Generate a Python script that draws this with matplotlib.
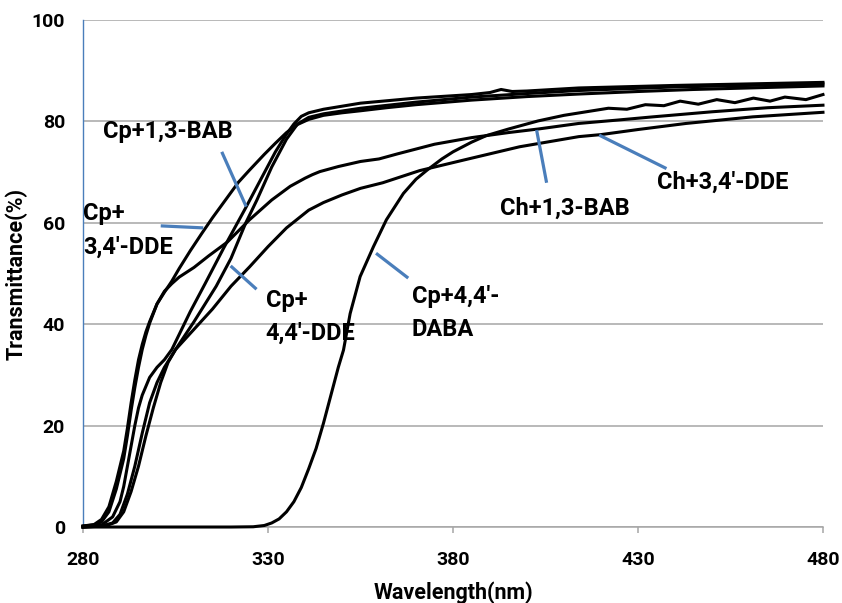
import numpy as np
import matplotlib
matplotlib.use('Agg')
import matplotlib.pyplot as plt

plt.rcParams['font.family'] = ['Roboto', 'DejaVu Sans']
plt.rcParams['font.weight'] = 'bold'

# --- data (wavelength nm, transmittance %) ---
cp_34dde_x = [280, 283, 285, 287, 289, 290, 291, 292, 293, 294, 295, 296, 297, 298, 300, 302, 304, 306,
              309, 312, 315, 318.5, 322, 325, 329, 332, 335, 338, 341, 345, 350, 355, 362, 370, 385, 400,
              414, 430, 445, 460, 480]
cp_34dde_y = [0.2, 0.5, 1.5, 4, 9, 12, 15, 19.5, 24.5, 29, 33, 36, 38.5, 40.5, 44, 46.3, 48.5, 51,
              54.5, 57.8, 61, 64.5, 68, 70.4, 73.5, 75.7, 77.8, 79.4, 80.4, 81.2, 81.7, 82.1, 82.7, 83.3, 84.2, 84.9,
              85.4, 85.9, 86.3, 86.6, 87.0]

ch_13bab_x = [280, 283, 285, 287, 289, 290, 291, 292, 293, 294, 295, 296, 297, 298, 300, 302, 304, 306,
              310, 314, 319, 325, 331, 336, 340, 342, 344, 349, 355, 360, 365, 375, 385, 395, 403, 414,
              425, 434, 450, 465, 480]
ch_13bab_y = [0.2, 0.4, 1.0, 3.0, 7.5, 10.5, 13.5, 18, 23, 27.5, 31.5, 35, 37.8, 40.2, 44, 46.5, 48, 49.3,
              51.2, 53.5, 56.2, 60.6, 64.5, 67.2, 68.8, 69.5, 70.1, 71.1, 72.1, 72.6, 73.6, 75.5, 76.8, 77.8, 78.5, 79.6,
              80.3, 80.9, 81.9, 82.7, 83.2]

cp_13bab_x = [280, 285, 288, 290, 291, 292, 293, 294, 295, 296, 298, 300, 302, 304, 306, 309, 313, 318,
              324, 328, 332, 335, 337, 339, 341, 345, 355, 370, 385, 390, 393, 396, 400, 414, 440, 460, 480]
cp_13bab_y = [0, 0.4, 2, 5, 8, 12, 16, 20, 23.5, 26, 29.5, 31.5, 33, 35, 38, 42.5, 48, 55,
              63, 68.5, 74, 77.5, 79.5, 81, 81.7, 82.4, 83.6, 84.6, 85.3, 85.7, 86.3, 85.9, 86.0, 86.6, 87.1, 87.4, 87.7]

cp_44dde_x = [280, 285, 288, 290, 292, 294, 296, 298, 300, 302, 305, 310, 316, 320, 324, 327, 331, 335,
              338, 341, 345, 355, 370, 385, 400, 414, 440, 460, 480]
cp_44dde_y = [0, 0.2, 0.8, 2.5, 6.5, 12, 18.5, 24.5, 28.5, 31.5, 35, 40.5, 47.5, 53, 60, 64.5, 71, 76.5,
              79.5, 80.8, 81.5, 82.6, 83.8, 84.8, 85.5, 86.1, 86.8, 87.1, 87.4]

ch_34dde_x = [280, 286, 289, 291, 293, 295, 297, 299, 301, 303, 305, 310, 315, 320, 325, 330, 335, 341,
              345, 350, 355, 361, 371, 383, 398, 414, 420, 430, 443, 461, 480]
ch_34dde_y = [0, 0.2, 1, 3, 7, 12, 18, 23.5, 28.5, 32.5, 35, 39, 43, 47.5, 51.3, 55.3, 59, 62.5,
              64, 65.5, 66.8, 67.9, 70.3, 72.4, 75, 77, 77.4, 78.4, 79.6, 80.9, 81.8]

cp_44daba_x = [280, 300, 320, 326, 329, 331, 333, 335, 337, 339, 341, 343, 345, 347, 349, 350.4, 352.2,
               354.9, 358.5, 362, 366.6, 370, 373, 377, 380, 385, 389, 395, 403, 410, 416, 422, 427, 432,
               437, 441.4, 446.3, 451.3, 456.2, 461.2, 465.7, 469.7, 475.4, 480]
cp_44daba_y = [0, 0, 0, 0.05, 0.3, 0.8, 1.6, 3, 5, 7.8, 11.5, 15.5, 20.5, 26, 31.5, 34.9, 42.1,
               49.4, 55.3, 60.6, 65.8, 68.6, 70.4, 72.6, 74.0, 75.9, 77.2, 78.5, 80.1, 81.2, 81.9, 82.6, 82.4, 83.3,
               83.1, 84.0, 83.4, 84.3, 83.7, 84.6, 84.0, 84.8, 84.3, 85.3]

series = [
    (cp_34dde_x, cp_34dde_y),
    (ch_13bab_x, ch_13bab_y),
    (cp_13bab_x, cp_13bab_y),
    (cp_44dde_x, cp_44dde_y),
    (ch_34dde_x, ch_34dde_y),
    (cp_44daba_x, cp_44daba_y),
]

# callouts: text, text anchor (data), leader start, leader end
labels = ["Cp+1,3-BAB", "Cp+\n3,4'-DDE", "Cp+\n4,4'-DDE", "Cp+4,4'-\nDABA", "Ch+1,3-BAB", "Ch+3,4'-DDE"]
label_xy = [(285.4, 78.1), (280.0, 58.5), (329.4, 41.4), (368.9, 42.2), (392.8, 62.9), (435.2, 67.9)]
leader_from = [(317.5, 74.0), (301.0, 59.4), (319.9, 51.5), (359.2, 54.0), (402.6, 78.3), (419.5, 77.3)]
leader_to = [(324.1, 63.2), (312.5, 59.0), (326.9, 46.9), (367.9, 49.1), (405.3, 67.9), (437.7, 70.7)]

xticks = [280, 330, 380, 430, 480]
yticks = [0, 20, 40, 60, 80, 100]

fig = plt.figure(figsize=(8.42, 6.03), dpi=100)
ax = fig.add_axes([0.0986, 0.126, 0.8788, 0.8408])

for x, y in series:
    ax.plot(x, y, color='black', lw=2.2, clip_on=False, zorder=3)

for (x0, y0), (x1, y1) in zip(leader_from, leader_to):
    ax.plot([x0, x1], [y0, y1], color='#4a7ebb', lw=2.3, solid_capstyle='butt', zorder=4)

for txt, (tx, ty) in zip(labels, label_xy):
    ax.text(tx, ty, txt, fontsize=17, fontweight='bold', ha='left', va='center',
            linespacing=1.55, zorder=5)

ax.set_xlim(280, 480)
ax.set_ylim(0, 100)
ax.set_xticks(xticks)
ax.set_yticks(yticks)
ax.grid(axis='y', color='#a6a6a6', lw=1.1)
ax.set_axisbelow(True)

for s in ['top', 'right']:
    ax.spines[s].set_visible(False)
ax.spines['left'].set_color('#4a7ebb')
ax.spines['left'].set_linewidth(1.0)
ax.spines['bottom'].set_color('#a6a6a6')
ax.spines['bottom'].set_linewidth(1.1)

ax.tick_params(axis='y', length=0, pad=13, labelsize=14)
ax.tick_params(axis='x', length=4, width=1.1, color='#a6a6a6', pad=13, labelsize=14)
for lab in ax.get_xticklabels() + ax.get_yticklabels():
    lab.set_fontweight('bold')

ax.set_xlabel('Wavelength(nm)', fontsize=15.5, fontweight='bold', labelpad=9)
ax.set_ylabel('Transmittance(%)', fontsize=15.5, fontweight='bold', labelpad=3)

fig.savefig('out.png', dpi=100)
